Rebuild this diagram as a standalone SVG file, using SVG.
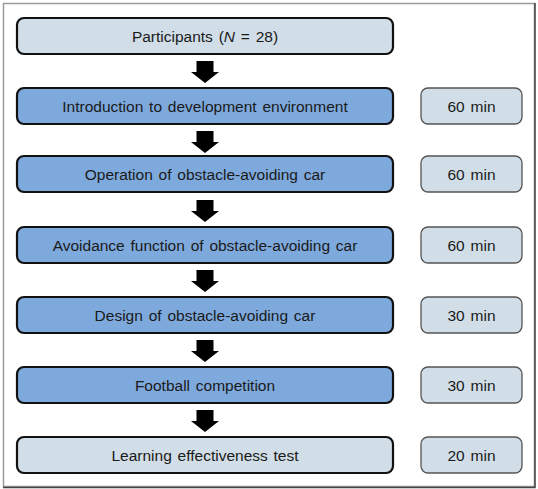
<svg xmlns="http://www.w3.org/2000/svg" width="538" height="489" viewBox="0 0 538 489">
<defs>
<style>
.main{stroke:#111;stroke-width:2.2}
.light{fill:#d1dde7}
.blue{fill:#7ea9dc}
.time{fill:#d1dde7;stroke:#555;stroke-width:1.3}
text{font-family:"Liberation Sans",Arial,sans-serif;font-size:15.5px;fill:#1a1a1a;text-anchor:middle;word-spacing:1.5px}
.arr{fill:#000}
</style>
<path id="ar" d="M-8.5,0 H8.5 V11 H14 L0,22 L-14,11 H-8.5 Z"/>
</defs>
<rect x="0" y="0" width="538" height="489" fill="#fff"/>
<rect x="3.5" y="3.5" width="531" height="483" fill="none" stroke="#9a9a9a" stroke-width="1.5"/>
<path d="M535,3 V487.5 H3" fill="none" stroke="#444" stroke-width="1.5"/>
<g id="connectors">
<use href="#ar" x="205" y="61" class="arr"/>
<use href="#ar" x="205" y="131" class="arr"/>
<use href="#ar" x="205" y="200" class="arr"/>
<use href="#ar" x="205" y="270" class="arr"/>
<use href="#ar" x="205" y="340" class="arr"/>
<use href="#ar" x="205" y="410" class="arr"/>
</g>
<g id="n0"><rect x="17" y="18" width="376" height="36" rx="7" class="main light"/><text x="205" y="41.6">Participants (<tspan font-style="italic">N</tspan> = 28)</text></g>
<g id="n1"><rect x="17" y="88" width="376" height="36" rx="7" class="main blue"/><text x="205" y="111.6">Introduction to development environment</text></g>
<g id="t1"><rect x="421" y="88" width="101" height="36" rx="7" class="time"/><text x="471.5" y="111.6">60 min</text></g>
<g id="n2"><rect x="17" y="156" width="376" height="36" rx="7" class="main blue"/><text x="205" y="179.6">Operation of obstacle-avoiding car</text></g>
<g id="t2"><rect x="421" y="156" width="101" height="36" rx="7" class="time"/><text x="471.5" y="179.6">60 min</text></g>
<g id="n3"><rect x="17" y="227" width="376" height="36" rx="7" class="main blue"/><text x="205" y="250.6">Avoidance function of obstacle-avoiding car</text></g>
<g id="t3"><rect x="421" y="227" width="101" height="36" rx="7" class="time"/><text x="471.5" y="250.6">60 min</text></g>
<g id="n4"><rect x="17" y="297" width="376" height="36" rx="7" class="main blue"/><text x="205" y="320.6">Design of obstacle-avoiding car</text></g>
<g id="t4"><rect x="421" y="297" width="101" height="36" rx="7" class="time"/><text x="471.5" y="320.6">30 min</text></g>
<g id="n5"><rect x="17" y="367" width="376" height="36" rx="7" class="main blue"/><text x="205" y="390.6">Football competition</text></g>
<g id="t5"><rect x="421" y="367" width="101" height="36" rx="7" class="time"/><text x="471.5" y="390.6">30 min</text></g>
<g id="n6"><rect x="17" y="437" width="376" height="36" rx="7" class="main light"/><text x="205" y="460.6">Learning effectiveness test</text></g>
<g id="t6"><rect x="421" y="437" width="101" height="36" rx="7" class="time"/><text x="471.5" y="460.6">20 min</text></g>
</svg>
